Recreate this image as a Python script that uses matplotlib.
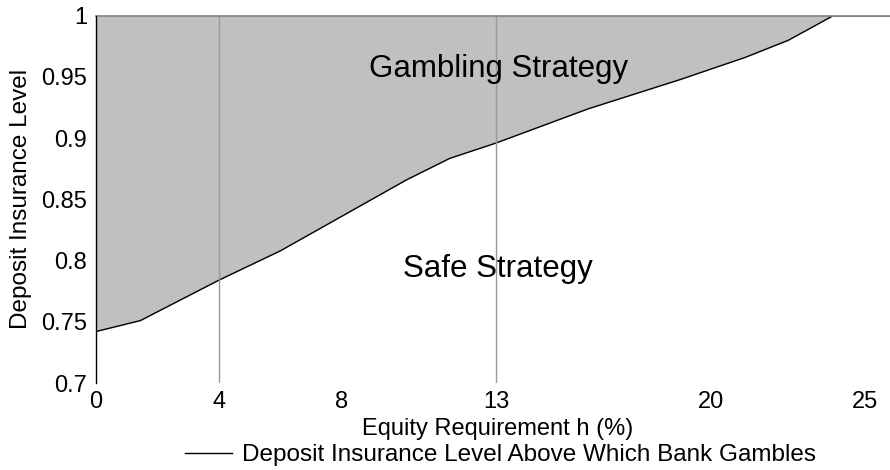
import matplotlib
matplotlib.use('Agg')
import matplotlib.pyplot as plt

plt.rcParams['font.family'] = ['Liberation Sans', 'DejaVu Sans']

# equity requirement h (%) and threshold deposit insurance level
h_vals = [0, 1.45, 4, 6, 10.1, 11.5, 13, 16, 19, 21.1, 22.5, 23.3, 23.95, 25.8]
dil_vals = [0.742, 0.751, 0.784, 0.808, 0.866, 0.8835, 0.896, 0.924, 0.948, 0.966, 0.980, 0.991, 1.0, 1.0]

xticks = [0, 4, 8, 13, 20, 25]
yticks = [0.7, 0.75, 0.8, 0.85, 0.9, 0.95, 1.0]
ytick_labels = ['0.7', '0.75', '0.8', '0.85', '0.9', '0.95', '1']
vlines_at = [4, 13]

fig = plt.figure(figsize=(8.9, 4.7), dpi=100)
ax = fig.add_axes([0.1075, 0.185, 0.8925, 0.7815])

ax.fill_between(h_vals, dil_vals, 1.0, color='#c0c0c0', lw=0)
line, = ax.plot(h_vals, dil_vals, color='black', lw=1,
                label='Deposit Insurance Level Above Which Bank Gambles')
for v in vlines_at:
    ax.axvline(v, color='#999999', lw=1)
ax.axhline(1.0, color='#808080', lw=1.2, clip_on=False)

ax.text(13.07, 0.9497, 'Gambling Strategy', ha='center', va='baseline', fontsize=22.5)
ax.text(13.07, 0.7868, 'Safe Strategy', ha='center', va='baseline', fontsize=22.5)

ax.set_xlim(0, 25.8)
ax.set_ylim(0.7, 1.0)
ax.set_xticks(xticks)
ax.set_yticks(yticks)
ax.set_yticklabels(ytick_labels)
ax.tick_params(length=0, labelsize=17)
ax.tick_params(axis='x', pad=6)
ax.tick_params(axis='y', pad=6)

for s in ['top', 'right', 'bottom']:
    ax.spines[s].set_visible(False)
ax.spines['left'].set_color('black')
ax.spines['left'].set_linewidth(1)

ax.set_xlabel('Equity Requirement h (%)', fontsize=17)
ax.xaxis.set_label_coords((497.5 - 95.7) / (890 - 95.7), -0.095)
ax.set_ylabel('Deposit Insurance Level', fontsize=17.5)
ax.yaxis.set_label_coords(-0.080, 0.5)

fig.legend(handles=[line], loc='center', bbox_to_anchor=(500.5 / 890, 1 - 455 / 470),
           frameon=False, fontsize=17.5, handlelength=1.95, handletextpad=0.4,
           borderpad=0, borderaxespad=0)

fig.savefig('out.png', dpi=100)
